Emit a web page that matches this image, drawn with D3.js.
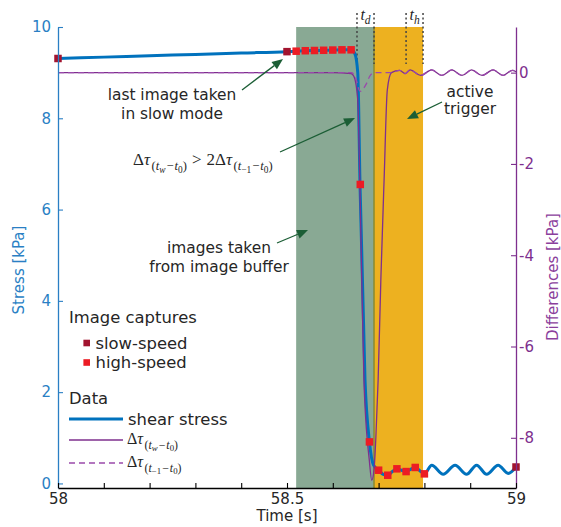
<!DOCTYPE html>
<html><head><meta charset="utf-8">
<script src="https://cdn.jsdelivr.net/npm/d3@7"></script>
<style>body{margin:0;background:#fff} svg{display:block}</style>
</head><body>
<svg id="c" width="561" height="527"></svg>
<script>
// ---------- data ----------
const xTicks = [58, 58.1, 58.2, 58.3, 58.4, 58.5, 58.6, 58.7, 58.8, 58.9, 59];
const xTickLabels = ["58", "", "", "", "", "58.5", "", "", "", "", "59"];
const leftTicks = [0, 2, 4, 6, 8, 10];
const rightTicks = [-8, -6, -4, -2, 0];

const stressTime = [58.00, 58.10, 58.20, 58.30, 58.40, 58.50, 58.52, 58.54, 58.56, 58.58, 58.60, 58.62, 58.64, 58.648, 58.6545, 58.6594, 58.6703, 58.680, 58.689, 58.700, 58.710, 58.720, 58.730, 58.740, 58.750, 58.760, 58.770, 58.780, 58.790, 58.800, 58.816, 58.841, 58.867, 58.892, 58.914, 58.936, 58.961, 58.983, 59.000];
const stressValue = [9.31, 9.34, 9.37, 9.40, 9.43, 9.46, 9.47, 9.48, 9.485, 9.49, 9.495, 9.50, 9.50, 9.42, 9.0, 6.55, 2.27, 0.91, 0.40, 0.29, 0.20, 0.18, 0.26, 0.32, 0.29, 0.26, 0.31, 0.35, 0.28, 0.21, 0.40, 0.20, 0.40, 0.20, 0.40, 0.20, 0.40, 0.22, 0.36];

const diffTime = [58.000, 58.300, 58.600, 58.640, 58.646, 58.650, 58.652, 58.655, 58.658, 58.662, 58.668, 58.6797, 58.685, 58.690, 58.694, 58.699, 58.705, 58.712, 58.719, 58.728, 58.746, 58.758, 58.769, 58.792, 58.816, 58.838, 58.860, 58.882, 58.903, 58.926, 58.950, 58.972, 58.992, 59.000];
const diffSolid = [0, 0, 0, -0.02, -0.08, -0.22, -0.35, -0.7, -1.9, -3.9, -6.74, -8.49, -8.93, -8.7, -8.0, -6.73, -4.5, -2.35, -0.38, 0.0, 0.05, -0.02, 0.06, -0.06, 0.06, -0.06, 0.06, -0.06, 0.06, -0.06, 0.06, -0.06, 0.05, 0.02];

const dashTime = [58.000, 58.300, 58.600, 58.640, 58.647, 58.652, 58.656, 58.660, 58.664, 58.674, 58.680, 58.687, 58.695, 58.728, 58.746, 58.758, 58.769, 58.792, 58.816, 58.838, 58.860, 58.882, 58.903, 58.926, 58.950, 58.972, 58.992, 59.000];
const diffDashed = [0, 0, 0, 0, -0.05, -0.18, -0.34, -0.41, -0.38, -0.23, -0.09, -0.015, 0, 0, 0.05, -0.02, 0.06, -0.06, 0.06, -0.06, 0.06, -0.06, 0.06, -0.06, 0.06, -0.06, 0.05, 0.02];

const slowTime = [58.0, 58.5, 59.0];
const slowValue = [9.31, 9.46, 0.36];
const highTime = [58.52, 58.54, 58.56, 58.58, 58.60, 58.62, 58.64, 58.66, 58.68, 58.70, 58.72, 58.74, 58.76, 58.78, 58.80];
const highValue = [9.47, 9.48, 9.485, 9.49, 9.495, 9.50, 9.50, 6.55, 0.91, 0.29, 0.18, 0.32, 0.26, 0.35, 0.21];

const bufferWindow = [58.52, 58.69];
const triggerWindow = [58.69, 58.797];
const tdMarks = [58.6528, 58.69];
const thMarks = [58.76, 58.797];

// ---------- setup ----------
const BLUE = "#0072BD", AXBLUE = "#2a7fc4", PURPLE = "#7E2F8E";
const SLOW = "#A2142F", HIGH = "#EC1C24", ARROW = "#1b5e35", TXT = "#262626";
const SANS = "DejaVu Sans", SERIF = "Liberation Serif";

const svg = d3.select("#c");
const x = d3.scaleLinear().domain([58, 59]).range([58, 516]);
const yL = d3.scaleLinear().domain([-0.1, 10]).range([488, 27]);
const yR = d3.scaleLinear().domain([-9.1, 1]).range([488, 27]);
const yTop = yL.range()[1], yBot = yL.range()[0];

// patches
svg.append("rect").attr("x", x(bufferWindow[0])).attr("y", yTop)
  .attr("width", x(bufferWindow[1]) - x(bufferWindow[0])).attr("height", yBot - yTop)
  .attr("fill", "#89A994");
svg.append("rect").attr("x", x(triggerWindow[0])).attr("y", yTop)
  .attr("width", x(triggerWindow[1]) - x(triggerWindow[0])).attr("height", yBot - yTop)
  .attr("fill", "#EDB120");
svg.append("line").attr("x1", x(triggerWindow[0])).attr("x2", x(triggerWindow[0]))
  .attr("y1", yTop).attr("y2", yBot).attr("stroke", "#8a8a2e").attr("stroke-width", 1.5);

// dotted markers
[...tdMarks, ...thMarks].forEach(t => {
  svg.append("line").attr("x1", x(t)).attr("x2", x(t)).attr("y1", 13).attr("y2", 64)
    .attr("stroke", "#444").attr("stroke-width", 1.5).attr("stroke-dasharray", "2,2.5");
});

// math text helper
function mathText(g, px, py, parts, S, anchor) {
  const t = g.append("text").attr("x", px).attr("y", py).attr("font-family", SERIF)
    .attr("fill", TXT).attr("text-anchor", anchor || "start");
  let prev = 0;
  parts.forEach(p => {
    const sh = (p.sh || 0) * S;
    t.append("tspan").attr("font-size", (p.s || 1) * S)
      .attr("font-style", p.i ? "italic" : "normal")
      .attr("dx", p.dx || 0)
      .attr("dy", sh - prev).text(p.t);
    prev = sh;
  });
  return t;
}
function tauSub(first, second) {
  return [
    {t: "Δ"}, {t: "τ", i: true},
    {t: "(", s: 0.74, sh: 0.3, dx: 1.5}, {t: "t", s: 0.74, sh: 0.3, i: true}, {t: first, s: 0.55, sh: 0.45, i: first === "w"},
    {t: "−", s: 0.74, sh: 0.3, dx: 1}, {t: "t", s: 0.74, sh: 0.3, i: true, dx: 1}, {t: second, s: 0.55, sh: 0.45},
    {t: ")", s: 0.74, sh: 0.3}
  ];
}

mathText(svg, (x(tdMarks[0]) + x(tdMarks[1])) / 2, 20, [{t: "t", i: true}, {t: "d", s: 0.72, sh: 0.22, i: true}], 16, "middle");
mathText(svg, (x(thMarks[0]) + x(thMarks[1])) / 2, 20, [{t: "t", i: true}, {t: "h", s: 0.72, sh: 0.22, i: true}], 16, "middle");

// lines
const lineL = d3.line().x(d => x(d[0])).y(d => yL(d[1])).curve(d3.curveMonotoneX);
const lineR = d3.line().x(d => x(d[0])).y(d => yR(d[1])).curve(d3.curveMonotoneX);
svg.append("path").attr("d", lineL(d3.zip(stressTime, stressValue)))
  .attr("fill", "none").attr("stroke", BLUE).attr("stroke-width", 3);
svg.append("path").attr("d", lineR(d3.zip(diffTime, diffSolid)))
  .attr("fill", "none").attr("stroke", PURPLE).attr("stroke-width", 1.3);
svg.append("path").attr("d", lineR(d3.zip(dashTime, diffDashed)))
  .attr("fill", "none").attr("stroke", "#9a4aab").attr("stroke-width", 1.3).attr("stroke-dasharray", "6,4");

// markers
const MS = 7.5;
svg.selectAll(".slow").data(d3.zip(slowTime, slowValue)).join("rect")
  .attr("x", d => x(d[0]) - MS / 2).attr("y", d => yL(d[1]) - MS / 2)
  .attr("width", MS).attr("height", MS).attr("fill", SLOW);
svg.selectAll(".high").data(d3.zip(highTime, highValue)).join("rect")
  .attr("x", d => x(d[0]) - MS / 2).attr("y", d => yL(d[1]) - MS / 2)
  .attr("width", MS).attr("height", MS).attr("fill", HIGH);

// axes
const axL = svg.append("g").attr("transform", `translate(${x(58)},0)`).attr("color", AXBLUE)
  .call(d3.axisLeft(yL).tickValues(leftTicks).tickSize(-5).tickSizeOuter(0).tickPadding(7).tickFormat(d => String(d)));
const axR = svg.append("g").attr("transform", `translate(${x(59)},0)`).attr("color", PURPLE)
  .call(d3.axisRight(yR).tickValues(rightTicks).tickSize(-5).tickSizeOuter(0).tickPadding(3).tickFormat(d => String(d)));
const axB = svg.append("g").attr("transform", `translate(0,${yBot})`).attr("color", "#000")
  .call(d3.axisBottom(x).tickValues(xTicks).tickSize(-5).tickSizeOuter(0).tickPadding(5).tickFormat((d, i) => xTickLabels[i]));
[axL, axR, axB].forEach(a => {
  a.selectAll("text").attr("font-family", SANS).attr("font-size", 15);
  a.select(".domain").attr("stroke-width", 1.3);
  a.selectAll(".tick line").attr("stroke-width", 1.1);
});
axB.selectAll("text").attr("fill", TXT);

svg.append("text").attr("transform", "translate(19,270) rotate(-90)").attr("text-anchor", "middle")
  .attr("dy", "0.35em").attr("font-family", SANS).attr("font-size", 15).attr("fill", AXBLUE).text("Stress [kPa]");
svg.append("text").attr("transform", "translate(553,277) rotate(-90)").attr("text-anchor", "middle")
  .attr("dy", "0.35em").attr("font-family", SANS).attr("font-size", 15).attr("fill", "#8b3f9c").text("Differences [kPa]");
svg.append("text").attr("x", 287).attr("y", 516).attr("text-anchor", "middle")
  .attr("dy", "0.35em").attr("font-family", SANS).attr("font-size", 15).attr("fill", TXT).text("Time [s]");

// annotations
function arrow(x1, y1, x2, y2) {
  const ang = Math.atan2(y2 - y1, x2 - x1), L = 11, w = 4.5;
  const bx = x2 - L * Math.cos(ang), by = y2 - L * Math.sin(ang);
  svg.append("line").attr("x1", x1).attr("y1", y1).attr("x2", bx).attr("y2", by)
    .attr("stroke", ARROW).attr("stroke-width", 1.3);
  const px = -Math.sin(ang) * w, py = Math.cos(ang) * w;
  svg.append("path").attr("d", `M${x2},${y2}L${bx + px},${by + py}L${bx - px},${by - py}Z`).attr("fill", ARROW);
}
function label(cx, lines, y0, dy) {
  lines.forEach((s, i) => svg.append("text").attr("x", cx).attr("y", y0 + i * dy).attr("dy", "0.35em")
    .attr("text-anchor", "middle").attr("font-family", SANS).attr("font-size", 15.4).attr("fill", TXT).text(s));
}
label(172, ["last image taken", "in slow mode"], 95, 18.5);
arrow(242, 90, 283, 59);
label(219, ["images taken", "from image buffer"], 248, 18.5);
arrow(277, 243, 308, 230);
label(470, ["active", "trigger"], 92, 17);
arrow(442, 102, 407, 119);
mathText(svg, 133, 165, [...tauSub("w", "0"), {t: ">", s: 1, sh: 0, dx: 5}, {t: "2", dx: 5}, ...tauSub("−1", "0")], 17);
arrow(280, 152, 355, 118);

// legend
const LF = 16.4;
const lg = svg.append("g");
lg.append("text").attr("x", 69).attr("y", 317).attr("dy", "0.35em").attr("font-family", SANS)
  .attr("font-size", LF).attr("fill", TXT).text("Image captures");
[["slow-speed", SLOW, 343], ["high-speed", HIGH, 362.5]].forEach(([s, c, yy]) => {
  lg.append("rect").attr("x", 86.7 - 3.3).attr("y", yy - 3.3).attr("width", 6.6).attr("height", 6.6).attr("fill", c);
  lg.append("text").attr("x", 95.5).attr("y", yy).attr("dy", "0.35em").attr("font-family", SANS)
    .attr("font-size", LF).attr("fill", TXT).text(s);
});
lg.append("text").attr("x", 69).attr("y", 398).attr("dy", "0.35em").attr("font-family", SANS)
  .attr("font-size", LF).attr("fill", TXT).text("Data");
lg.append("line").attr("x1", 69).attr("x2", 123).attr("y1", 419).attr("y2", 419).attr("stroke", BLUE).attr("stroke-width", 3);
lg.append("text").attr("x", 128).attr("y", 419).attr("dy", "0.35em").attr("font-family", SANS)
  .attr("font-size", LF).attr("fill", TXT).text("shear stress");
lg.append("line").attr("x1", 69).attr("x2", 123).attr("y1", 440).attr("y2", 440).attr("stroke", PURPLE).attr("stroke-width", 1.3);
lg.append("line").attr("x1", 69).attr("x2", 123).attr("y1", 463).attr("y2", 463).attr("stroke", "#9a4aab").attr("stroke-width", 1.3).attr("stroke-dasharray", "6,4");
mathText(lg, 127, 444, tauSub("w", "0"), 16);
mathText(lg, 127, 467, tauSub("−1", "0"), 16);
</script>
</body></html>
